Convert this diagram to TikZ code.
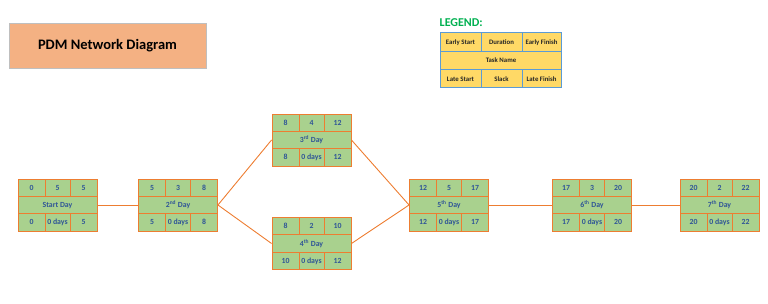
\documentclass[tikz,border=0pt]{standalone}
\usepackage{fontspec}
\setmainfont{Carlito}
\definecolor{cellgreen}{HTML}{A9D18E}
\definecolor{edgeorange}{HTML}{ED7D31}
\definecolor{textblue}{HTML}{2F5597}
\definecolor{titlefill}{HTML}{F4B183}
\definecolor{titleborder}{HTML}{BFBFBF}
\definecolor{legfill}{HTML}{FFD966}
\definecolor{legborder}{HTML}{5B9BD5}
\definecolor{leggreen}{HTML}{00B050}
\tikzset{
  cell/.style={draw=edgeorange, line width=0.9pt, fill=cellgreen, inner sep=0pt,
    minimum height=17.33pt, text height=1.5ex, text depth=0.4ex,
    text=textblue, font=\bfseries\fontsize{7.8}{8}\selectfont},
  sidecell/.style={cell, minimum width=27pt},
  midcell/.style={cell, minimum width=25pt},
  taskcell/.style={cell, minimum width=79pt},
  link/.style={draw=edgeorange, line width=0.9pt},
  legcell/.style={draw=legborder, line width=0.9pt, fill=legfill, inner sep=0pt,
    minimum height=18.3pt, text height=1.5ex, text depth=0.4ex,
    font=\bfseries\fontsize{6.8}{7}\selectfont, text=black!85},
}
\newcommand\pdm[9]{%
  \node[taskcell] (#1) at (#2,#3) {#7};
  \node[sidecell] (#1-es) at (#2-26,#3-17.33) {#4};
  \node[midcell]  (#1-d)  at (#2,#3-17.33) {#5};
  \node[sidecell] (#1-ef) at (#2+26,#3-17.33) {#6};
  \node[sidecell] (#1-ls) at (#2-26,#3+17.33) {#8};
  \node[midcell]  (#1-sl) at (#2,#3+17.33) {0 days};
  \node[sidecell] (#1-lf) at (#2+26,#3+17.33) {#9};
}
\begin{document}
\begin{tikzpicture}[x=1pt,y=-1pt]
\useasboundingbox (0,0) rectangle (768,304);
% title
\node[draw=titleborder, line width=0.8pt, fill=titlefill, minimum width=197pt, minimum height=45pt,
  font=\bfseries\fontsize{14.5}{16}\selectfont] (title) at (107.5,45.5) {PDM Network Diagram};
% legend
\node[font=\bfseries\fontsize{12}{14}\selectfont, text=leggreen, anchor=west, inner sep=0pt] (legtitle) at (439.5,22.5) {LEGEND:};
\node[legcell, minimum width=41pt] (lg-es) at (460.5,42) {Early Start};
\node[legcell, minimum width=41pt] (lg-d) at (501.5,42) {Duration};
\node[legcell, minimum width=39pt] (lg-ef) at (541.5,42) {Early Finish};
\node[legcell, minimum width=121pt] (lg-t) at (501,60.3) {Task Name};
\node[legcell, minimum width=41pt] (lg-ls) at (460.5,78.6) {Late Start};
\node[legcell, minimum width=41pt] (lg-sl) at (501.5,78.6) {Slack};
\node[legcell, minimum width=39pt] (lg-lf) at (541.5,78.6) {Late Finish};
% nodes
\pdm{n1}{57.5}{205}{0}{5}{5}{Start Day}{0}{5}
\pdm{n2}{178}{205}{5}{3}{8}{2\textsuperscript{nd} Day}{5}{8}
\pdm{n3}{311.5}{140}{8}{4}{12}{3\textsuperscript{rd} Day}{8}{12}
\pdm{n4}{311.5}{243.5}{8}{2}{10}{4\textsuperscript{th} Day}{10}{12}
\pdm{n5}{449}{205}{12}{5}{17}{5\textsuperscript{th} Day}{12}{17}
\pdm{n6}{592}{205}{17}{3}{20}{6\textsuperscript{th} Day}{17}{20}
\pdm{n7}{719.5}{205}{20}{2}{22}{7\textsuperscript{th} Day}{20}{22}
% links
\draw[link] (n1.east) -- (n2.west);
\draw[link] (n2.east) -- (n3.west);
\draw[link] (n2.east) -- (n4.west);
\draw[link] (n3.east) -- (n5.west);
\draw[link] (n4.east) -- (n5.west);
\draw[link] (n5.east) -- (n6.west);
\draw[link] (n6.east) -- (n7.west);
\end{tikzpicture}
\end{document}
